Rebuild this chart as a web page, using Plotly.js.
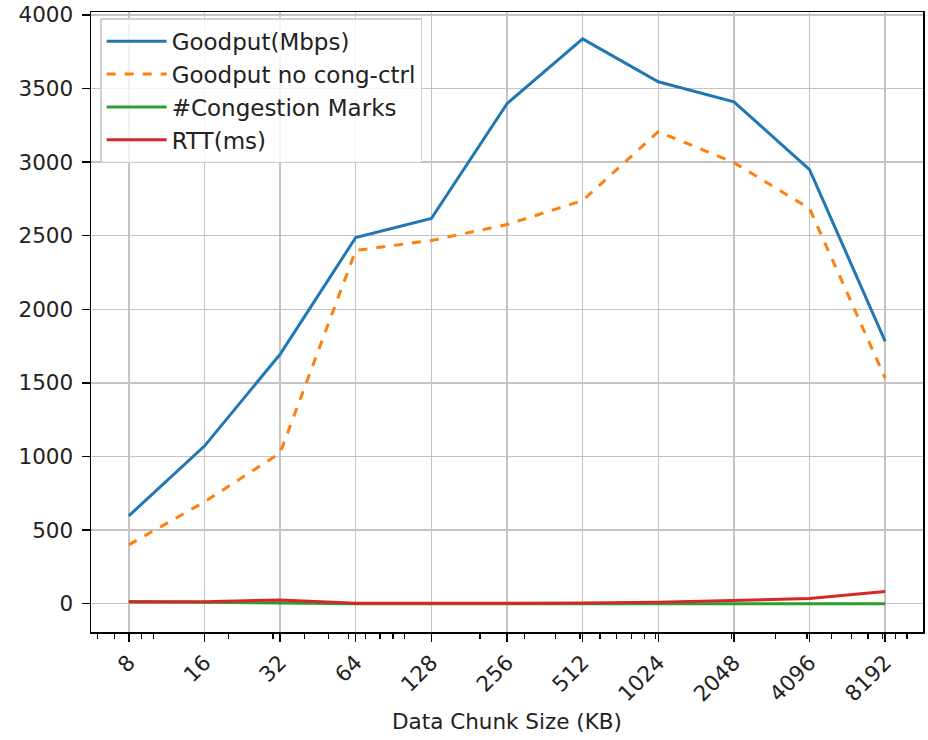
<!DOCTYPE html>
<html>
<head>
<meta charset="utf-8">
<script src="https://cdn.plot.ly/plotly-3.0.1.min.js"></script>
<style>html,body{margin:0;padding:0;background:#fff;}#chart{width:928px;height:740px;}</style>
</head>
<body>
<div id="chart"></div>
<script>
const chunkSizes = [8, 16, 32, 64, 128, 256, 512, 1024, 2048, 4096, 8192];
const tickLabels = ["8", "16", "32", "64", "128", "256", "512", "1024", "2048", "4096", "8192"];
const goodput = [597, 1071, 1695, 2488, 2617, 3397, 3837, 3546, 3410, 2949, 1783];
const goodputNoCC = [400, 692, 1024, 2400, 2468, 2576, 2739, 3207, 2997, 2685, 1532];
const congestionMarks = [15, 10, 10, 0, 0, 0, 0, 0, 0, 0, 0];
const rtt = [12, 14, 25, 3, 3, 3, 5, 10, 22, 35, 83];

const minorVals = [];
for (let e = 0; e <= 3; e++) {
  for (let k = 2; k <= 9; k++) minorVals.push(k * Math.pow(10, e));
}
minorVals.push(10, 100, 1000, 10000);

const lw = 3;
const traces = [
  {x: chunkSizes, y: goodput, name: "Goodput(Mbps)", mode: "lines", line: {color: "#1f77b4", width: lw}},
  {x: chunkSizes, y: goodputNoCC, name: "Goodput no cong-ctrl", mode: "lines", line: {color: "#ff7f0e", width: lw, dash: "dash"}},
  {x: chunkSizes, y: congestionMarks, name: "#Congestion Marks", mode: "lines", line: {color: "#2ca02c", width: lw}},
  {x: chunkSizes, y: rtt, name: "RTT(ms)", mode: "lines", line: {color: "#d62728", width: lw}}
];

const font = {family: "DejaVu Sans, sans-serif", size: 21.5, color: "#222"};
const layout = {
  width: 928, height: 740,
  margin: {l: 91, r: 5, t: 12, b: 108},
  paper_bgcolor: "#fff", plot_bgcolor: "#fff",
  font: font,
  showlegend: true,
  legend: {
    x: 0.011, y: 0.99, xanchor: "left", yanchor: "top",
    bgcolor: "rgba(255,255,255,0.8)", bordercolor: "#d0d0d0", borderwidth: 1.5,
    font: {family: "DejaVu Sans, sans-serif", size: 23, color: "#222"},
    itemwidth: 60,
    tracegroupgap: 2
  },
  xaxis: {
    type: "log",
    range: [Math.log10(8) - 0.5 * Math.log10(2), Math.log10(8192) + 0.5 * Math.log10(2)],
    tickmode: "array", tickvals: chunkSizes, ticktext: tickLabels,
    tickangle: -45,
    ticks: "outside", ticklen: 8, tickwidth: 1.5, tickcolor: "#000",
    showgrid: true, gridcolor: "#c4c4c4", gridwidth: 1.5,
    showline: true, linecolor: "#000", linewidth: 1.5, mirror: true,
    zeroline: false,
    tickfont: font,
    minor: {tickmode: "array", tickvals: minorVals, ticks: "outside", ticklen: 5, tickwidth: 1.2, tickcolor: "#000", showgrid: false},
    title: {text: "Data Chunk Size (KB)", font: font, standoff: 8}
  },
  yaxis: {
    range: [-192, 4020],
    tickmode: "array", tickvals: [0, 500, 1000, 1500, 2000, 2500, 3000, 3500, 4000],
    ticks: "outside", ticklen: 8, tickwidth: 1.5, tickcolor: "#000",
    ticklabelstandoff: 4,
    showgrid: true, gridcolor: "#c4c4c4", gridwidth: 1.5,
    showline: true, linecolor: "#000", linewidth: 1.5, mirror: true,
    zeroline: false,
    tickfont: font
  }
};
Plotly.newPlot("chart", traces, layout, {displayModeBar: false, staticPlot: true});
</script>
</body>
</html>
